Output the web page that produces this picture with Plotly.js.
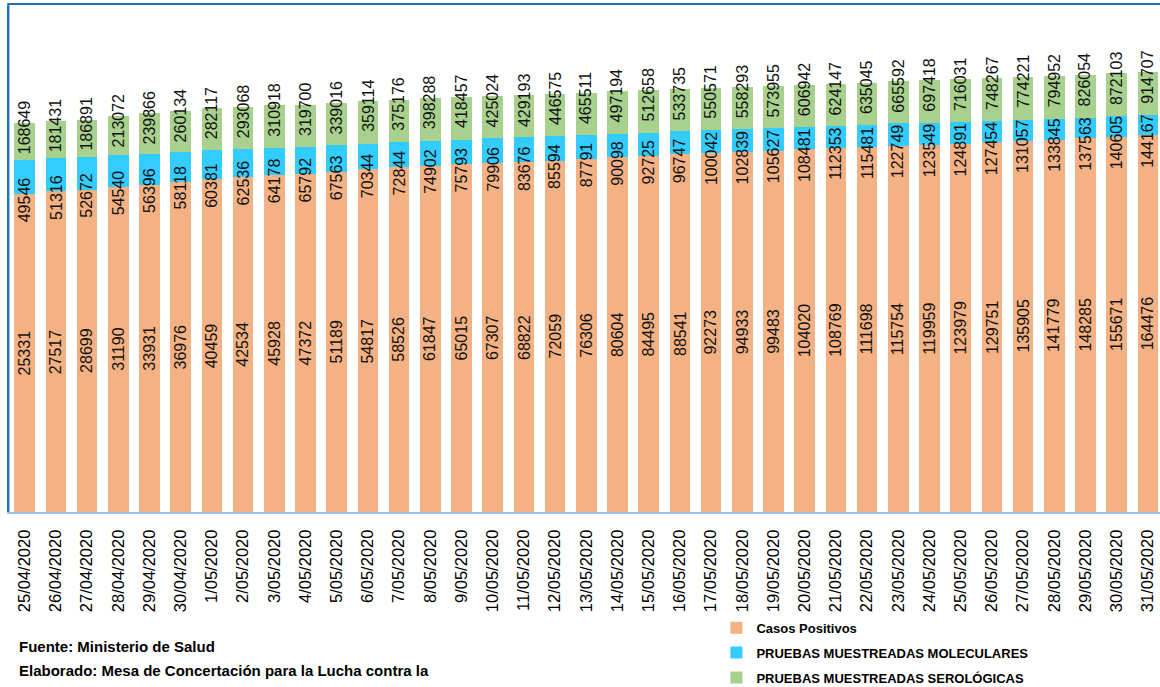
<!DOCTYPE html>
<html>
<head>
<meta charset="utf-8">
<script src="https://cdn.plot.ly/plotly-3.0.1.min.js"></script>
<style>
html,body{margin:0;padding:0;background:#fff;}
#chart{width:1160px;height:687px;}
</style>
</head>
<body>
<div id="chart"></div>
<script>
const fechas = ["25/04/2020","26/04/2020","27/04/2020","28/04/2020","29/04/2020","30/04/2020",
"1/05/2020","2/05/2020","3/05/2020","4/05/2020","5/05/2020","6/05/2020","7/05/2020","8/05/2020",
"9/05/2020","10/05/2020","11/05/2020","12/05/2020","13/05/2020","14/05/2020","15/05/2020","16/05/2020",
"17/05/2020","18/05/2020","19/05/2020","20/05/2020","21/05/2020","22/05/2020","23/05/2020","24/05/2020",
"25/05/2020","26/05/2020","27/05/2020","28/05/2020","29/05/2020","30/05/2020","31/05/2020"];

const casosPositivos = [25331,27517,28699,31190,33931,36976,40459,42534,45928,47372,51189,54817,58526,
61847,65015,67307,68822,72059,76306,80604,84495,88541,92273,94933,99483,104020,108769,111698,115754,
119959,123979,129751,135905,141779,148285,155671,164476];

const pruebasMoleculares = [49546,51316,52672,54540,56396,58118,60381,62536,64178,65792,67563,70344,72844,
74902,75793,79906,83676,85594,87791,90098,92725,96747,100042,102839,105627,108481,112353,115481,122749,
123549,124891,127454,131057,133845,137563,140605,144167];

const pruebasSerologicas = [168649,181431,186891,213072,239866,260134,282117,293068,310918,319700,339016,
359114,375176,398288,418457,425024,429193,446575,465511,497194,512658,533735,550571,558293,573955,606942,
624147,635045,665592,697418,716031,748267,774221,794952,826054,872103,914707];

const nombres = ["Casos Positivos","PRUEBAS MUESTREADAS MOLECULARES","PRUEBAS MUESTREADAS SEROLÓGICAS"];
const colores = ["#F4B183","#33CCFF","#A9D18E"];

const FONT = "Liberation Sans, Arial, sans-serif";

const traces = [casosPositivos, pruebasMoleculares, pruebasSerologicas].map((vals, i) => ({
  type: "bar",
  x: fechas,
  y: vals,
  name: nombres[i],
  legendgroup: "g" + i,
  marker: {color: colores[i], line: {width: 0}},
  hoverinfo: "x+y+name"
}));

// data labels as annotations positioned from the data through the log axis
const annotations = [];
const lblFont = {family: FONT, size: 16, color: "#111"};
fechas.forEach((f, k) => {
  const c1 = casosPositivos[k];
  const c2 = c1 + pruebasMoleculares[k];
  const c3 = c2 + pruebasSerologicas[k];
  annotations.push({x: f, y: Math.log10(c1) / 2, xref: "x", yref: "y", text: String(casosPositivos[k]),
    textangle: -90, showarrow: false, font: lblFont, xanchor: "center", yanchor: "middle"});
  annotations.push({x: f, y: Math.log10(c1), xref: "x", yref: "y", text: String(pruebasMoleculares[k]),
    textangle: -90, showarrow: false, font: lblFont, xanchor: "center", yanchor: "middle", yshift: -6});
  annotations.push({x: f, y: Math.log10(c3), xref: "x", yref: "y", text: String(pruebasSerologicas[k]),
    textangle: -90, showarrow: false, font: lblFont, xanchor: "center", yanchor: "middle", yshift: -5});
});

annotations.push({xref: "paper", yref: "paper", x: 0.007, y: -0.266, xanchor: "left", yanchor: "middle",
  text: "Fuente: Ministerio de Salud", showarrow: false,
  font: {family: FONT, size: 15, color: "#000", weight: "bold"}});
annotations.push({xref: "paper", yref: "paper", x: 0.007, y: -0.313, xanchor: "left", yanchor: "middle",
  text: "Elaborado: Mesa de Concertación para la Lucha contra la", showarrow: false,
  font: {family: FONT, size: 15, color: "#000", weight: "bold"}});

const layout = {
  width: 1160,
  height: 687,
  margin: {l: 9, r: 0, t: 6, b: 175, autoexpand: false},
  paper_bgcolor: "#fff",
  plot_bgcolor: "#fff",
  barmode: "stack",
  bargap: 0.34,
  showlegend: true,
  legend: {
    x: 0.6146, y: -0.199, xanchor: "left", yanchor: "top",
    orientation: "v", traceorder: "grouped", tracegroupgap: 5,
    font: {family: FONT, size: 13, color: "#000", weight: "bold"},
    bgcolor: "rgba(0,0,0,0)", itemwidth: 30
  },
  xaxis: {
    type: "category",
    range: [-0.5, 36.39],
    tickangle: -90,
    tickfont: {family: FONT, size: 16.5, color: "#000"},
    ticks: "",
    showgrid: false,
    zeroline: false,
    showline: true,
    linecolor: "#9DC3E6",
    linewidth: 2,
    ticklabelstandoff: 9,
    automargin: false,
    fixedrange: true
  },
  yaxis: {
    type: "log",
    range: [0, 7],
    showticklabels: false,
    showgrid: false,
    zeroline: false,
    ticks: "",
    showline: true,
    linecolor: "#1F6FC5",
    linewidth: 2,
    automargin: false,
    fixedrange: true
  },
  shapes: [
    {type: "line", xref: "paper", yref: "paper", x0: -0.0015, x1: 1.01, y0: 1.004, y1: 1.004,
     line: {color: "#1F6FC5", width: 2}},
    {type: "line", xref: "paper", yref: "paper", x0: -0.0005, x1: -0.0005, y0: 0, y1: 1.004,
     line: {color: "#1F6FC5", width: 2}}
  ],
  annotations: annotations,
  font: {family: FONT}
};

Plotly.newPlot("chart", traces, layout, {displayModeBar: false, staticPlot: true});
</script>
</body>
</html>
